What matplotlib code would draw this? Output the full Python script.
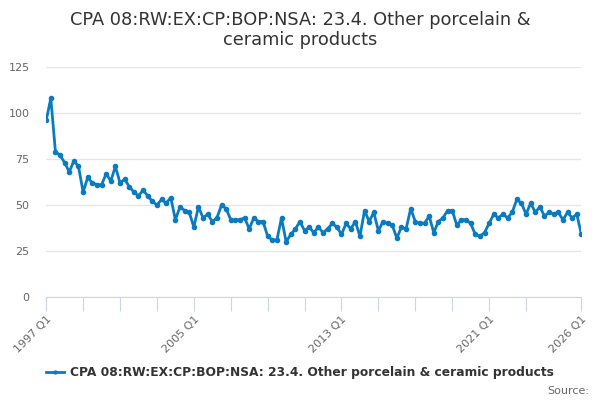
import numpy as np
import matplotlib
matplotlib.use("Agg")
import matplotlib.pyplot as plt

# quarterly values, 1997 Q1 .. 2026 Q1
values = [96, 108, 79, 77, 73, 68, 74, 71, 57, 65, 62, 61, 61, 67, 63, 71,
          62, 64, 60, 57, 55, 58, 55, 52, 50, 53, 51, 54, 42, 49, 47, 46,
          38, 49, 43, 45, 41, 43, 50, 48, 42, 42, 42, 43, 37, 43, 41, 41,
          33, 31, 31, 43, 30, 34, 37, 41, 36, 38, 35, 38, 35, 37, 40, 38,
          34, 40, 37, 41, 33, 47, 41, 46, 36, 41, 40, 39, 32, 38, 37, 48,
          41, 40, 40, 44, 35, 41, 43, 47, 47, 39, 42, 42, 40, 34, 33, 35,
          40, 45, 43, 45, 43, 46, 53, 51, 45, 51, 46, 49, 44, 46, 45, 46,
          42, 46, 43, 45, 34]
start_year = 1997
quarters = ["%d Q%d" % (start_year + i // 4, i % 4 + 1) for i in range(len(values))]
labelled = ["1997 Q1", "2005 Q1", "2013 Q1", "2021 Q1", "2026 Q1"]
tick_quarters = ["%d Q1" % y for y in range(1997, 2024, 2)] + ["2026 Q1"]
yticks = [0, 25, 50, 75, 100, 125]

series_name = "CPA 08:RW:EX:CP:BOP:NSA: 23.4. Other porcelain & ceramic products"
title = "CPA 08:RW:EX:CP:BOP:NSA: 23.4. Other porcelain &\nceramic products"

line_col = "#0b7bc1"
grey = "#666666"
axis_col = "#ccd6eb"

fig = plt.figure(figsize=(6, 4), dpi=100)
ax = fig.add_axes([0.077, 0.2575, 0.892, 0.575])

x = np.arange(len(values))
ax.plot(x, values, color=line_col, lw=2, marker="o", ms=3, label=series_name)

ax.set_xlim(0, len(values) - 1)
ax.set_ylim(0, 125)
ax.set_yticks(yticks)
ax.yaxis.grid(True, color="#e6e6e6", lw=1)
ax.set_axisbelow(True)
ax.tick_params(axis="y", length=0, labelsize=8, labelcolor=grey, pad=12)

pos = [quarters.index(q) for q in tick_quarters]
ax.set_xticks(pos)
ax.set_xticklabels([q if q in labelled else "" for q in tick_quarters],
                   rotation=45, ha="right", rotation_mode="anchor")
ax.tick_params(axis="x", length=10, color=axis_col, labelsize=8,
               labelcolor=grey, pad=2)

for s in ["top", "right", "left"]:
    ax.spines[s].set_visible(False)
ax.spines["bottom"].set_color(axis_col)

fig.text(0.5, 0.972, title, ha="center", va="top", fontsize=12.8,
         color="#333333", linespacing=1.15)

leg = ax.legend(loc="center", bbox_to_anchor=(0.5, 0.068),
                bbox_transform=fig.transFigure, frameon=False,
                prop={"size": 8.8, "weight": "bold"}, handlelength=1.4,
                handletextpad=0.5, markerscale=0.7)
for t in leg.get_texts():
    t.set_color("#333333")

fig.text(0.982, 0.022, "Source:", ha="right", va="center", fontsize=8, color=grey)

fig.savefig("out.png", dpi=100)
